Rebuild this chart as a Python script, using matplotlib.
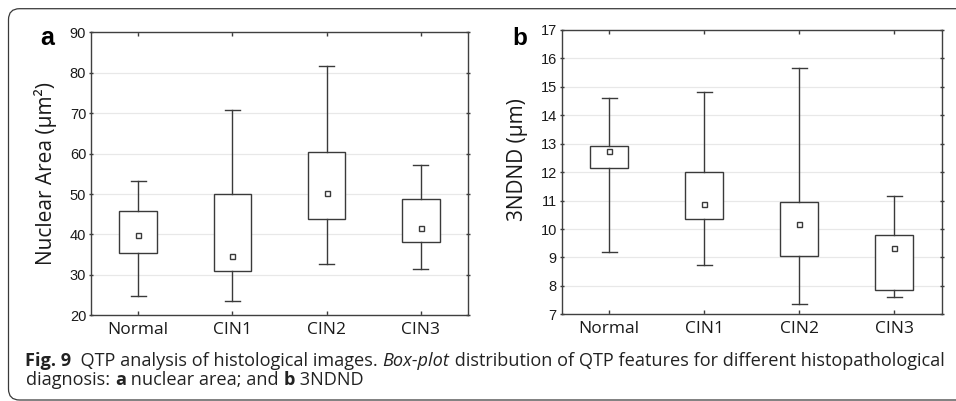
import re
import matplotlib
matplotlib.use("Agg")
import matplotlib.pyplot as plt
import matplotlib.font_manager as fm
from matplotlib.font_manager import FontProperties
from matplotlib.patches import PathPatch
from matplotlib.path import Path
from matplotlib.transforms import IdentityTransform

# ---------------- data ----------------
categories = ["Normal", "CIN1", "CIN2", "CIN3"]

# panel a: Nuclear Area (µm²)
area_min = [24.8, 23.5, 32.7, 31.5]
area_q1 = [35.4, 31.0, 43.8, 38.1]
area_med = [39.9, 34.6, 50.2, 41.7]
area_q3 = [45.8, 49.9, 60.4, 48.8]
area_max = [53.2, 70.8, 81.7, 57.2]
area_ticks = [20, 30, 40, 50, 60, 70, 80, 90]

# panel b: 3NDND (µm)
nd_min = [9.18, 8.73, 7.35, 7.62]
nd_q1 = [12.16, 10.35, 9.06, 7.84]
nd_med = [12.74, 10.87, 10.18, 9.33]
nd_q3 = [12.93, 12.02, 10.96, 9.80]
nd_max = [14.60, 14.81, 15.68, 11.16]
nd_ticks = [7, 8, 9, 10, 11, 12, 13, 14, 15, 16, 17]

W, H = 956, 401
fig = plt.figure(figsize=(W / 100, H / 100), dpi=100)

LINE = "#3a3a3a"
names = {f.name for f in fm.fontManager.ttflist}
NUMFONT = "Liberation Sans" if "Liberation Sans" in names else "DejaVu Sans"
LABFONT = "Open Sans" if "Open Sans" in names else "DejaVu Sans"


def px_axes(l, t, r, b):
    return fig.add_axes([l / W, 1 - b / H, (r - l) / W, (b - t) / H])


def draw_panel(ax, mins, q1, med, q3, maxs, ticks, numsize):
    stats = []
    for i, c in enumerate(categories):
        stats.append(dict(label=c, whislo=mins[i], q1=q1[i], med=med[i],
                          q3=q3[i], whishi=maxs[i], fliers=[]))
    pos = list(range(len(categories)))
    ax.bxp(stats, positions=pos, widths=0.4, capwidths=0.16,
           showfliers=False, patch_artist=True,
           boxprops=dict(facecolor="white", edgecolor=LINE, linewidth=1.0),
           whiskerprops=dict(color=LINE, linewidth=1.0),
           capprops=dict(color=LINE, linewidth=1.0),
           medianprops=dict(linewidth=0))
    ax.plot(pos, med, linestyle="none", marker="s", markersize=3.6,
            markerfacecolor="white", markeredgecolor=LINE, markeredgewidth=1.0,
            zorder=5)
    ax.set_xlim(-0.5, len(categories) - 0.5)
    ax.set_ylim(ticks[0], ticks[-1])
    ax.set_yticks(ticks)
    ax.set_xticks(pos)
    ax.set_xticklabels(categories, fontsize=12.5, family=LABFONT, color="#1a1a1a")
    for lab in ax.get_yticklabels():
        lab.set_fontsize(numsize)
        lab.set_family(NUMFONT)
        lab.set_color("#1a1a1a")
    ax.set_axisbelow(True)
    ax.yaxis.grid(True, color="#e8e8e8", linewidth=0.9)
    ax.tick_params(axis="x", direction="in", length=3, width=1, color=LINE,
                   top=True, bottom=True, pad=4.5)
    ax.tick_params(axis="y", direction="inout", length=3, width=1, color=LINE,
                   left=True, right=True, pad=2.0)
    for s in ax.spines.values():
        s.set_color("#404040")
        s.set_linewidth(1.0)


axa = px_axes(91, 32.3, 468, 315.3)
draw_panel(axa, area_min, area_q1, area_med, area_q3, area_max, area_ticks, 10.5)
axa.set_ylabel("Nuclear Area (µm²)", fontsize=15, family=LABFONT,
               color="#1a1a1a", va="center")
axa.yaxis.set_label_coords(-0.122, 0.5)

axb = px_axes(561.7, 30, 942, 314.3)
draw_panel(axb, nd_min, nd_q1, nd_med, nd_q3, nd_max, nd_ticks, 10.5)
axb.set_ylabel("3NDND (µm)", fontsize=15, family=LABFONT,
               color="#1a1a1a", va="center")
axb.yaxis.set_label_coords(-0.116, 0.543)

# panel letters
fig.text(40 / W, 1 - 45 / H, "a", fontsize=18, fontweight="bold",
         family=NUMFONT, va="baseline", ha="left")
fig.text(512 / W, 1 - 45 / H, "b", fontsize=17.5, fontweight="bold",
         family=NUMFONT, va="baseline", ha="left")

# rounded frame: top, left and bottom edges (right side runs off the picture)
x0, yt, yb, r, xr = 8.5, 392.3, 1.0, 11.0, W + 20
verts = [(xr, yt), (x0 + r, yt), (x0, yt), (x0, yt - r), (x0, yb + r),
         (x0, yb), (x0 + r, yb), (xr, yb)]
codes = [Path.MOVETO, Path.LINETO, Path.CURVE3, Path.CURVE3, Path.LINETO,
         Path.CURVE3, Path.CURVE3, Path.LINETO]
fig.add_artist(PathPatch(Path(verts, codes), transform=IdentityTransform(),
                         facecolor="none", edgecolor="#3a3a3a", linewidth=0.9))

# ---------------- caption ----------------
line1 = [("Fig. 9", "bold", "normal"),
         ("  QTP analysis of histological images. ", "normal", "normal"),
         ("Box-plot", "normal", "italic"),
         (" distribution of QTP features for different histopathological", "normal", "normal")]
line2 = [("diagnosis: ", "normal", "normal"),
         ("a", "bold", "normal"),
         (" nuclear area; and ", "normal", "normal"),
         ("b", "bold", "normal"),
         (" 3NDND", "normal", "normal")]

renderer = fig.canvas.get_renderer()


def _w(f):
    w = f.weight
    if isinstance(w, str):
        w = {"light": 300, "normal": 400, "regular": 400, "book": 400,
             "medium": 500, "semibold": 600, "bold": 700}.get(w.lower(), 400)
    return w


# group installed fonts by family name
fams = {}
for f in fm.fontManager.ttflist:
    if not f.fname.lower().endswith((".ttf", ".otf")):
        continue
    fams.setdefault(f.name, []).append(f)

pattern = re.compile(r"(cond|narrow)", re.I)
wanted = [n for n in fams if pattern.search(n)] + \
         [n for n in ["Open Sans", "Noto Sans", "Lato", "Roboto", "Liberation Sans"] if n in fams]


def family_files(name):
    fl = fams[name]

    def best(bold, italic, target):
        cand = [f for f in fl if (f.style in ("italic", "oblique")) == italic
                and ((_w(f) >= 600) == bold)]
        if not cand:
            return None
        return min(cand, key=lambda f: abs(_w(f) - target)).fname

    reg = best(False, False, 400)
    if reg is None:
        return None
    bold = best(True, False, 700)
    ital = best(False, True, 400)
    return {("normal", "normal"): reg,
            ("bold", "normal"): bold or reg,
            ("normal", "italic"): ital or reg}, (bold is not None) + (ital is not None)


def line_width(files, pieces, size):
    tot = 0
    for s, w, st in pieces:
        prop = FontProperties(fname=files[(w, st)], size=size)
        tot += renderer.get_text_width_height_descent(s, prop, ismath=False)[0]
    return tot


TARGET_W = 918
best_choice = None
for n in wanted:
    res = family_files(n)
    if res is None:
        continue
    files, nstyles = res
    try:
        wid = line_width(files, line1, 12.0)
    except Exception:
        continue
    if wid <= 0:
        continue
    fit = 12.0 * TARGET_W / wid
    score = abs(fit - 13.0) + (2 - nstyles) * 1.5
    if best_choice is None or score < best_choice[0]:
        best_choice = (score, files, fit)

if best_choice is not None:
    _, cap_files, cap_size = best_choice
    cap_size = min(cap_size, 13.5)

    def props(weight, style, size):
        return FontProperties(fname=cap_files[(weight, style)], size=size)
else:
    cap_size = 10.5

    def props(weight, style, size):
        return FontProperties(family=LABFONT, weight=weight, style=style, size=size)


def layout(pieces, xstart, ybase, size):
    x = xstart
    for s, w, st in pieces:
        t = fig.text(x / W, 1 - ybase / H, s, fontproperties=props(w, st, size),
                     va="baseline", ha="left", color="#222222")
        x += t.get_window_extent(renderer).width


layout(line1, 25, 366.5, cap_size)
layout(line2, 26, 385, cap_size)

fig.savefig("out.png", dpi=100)
